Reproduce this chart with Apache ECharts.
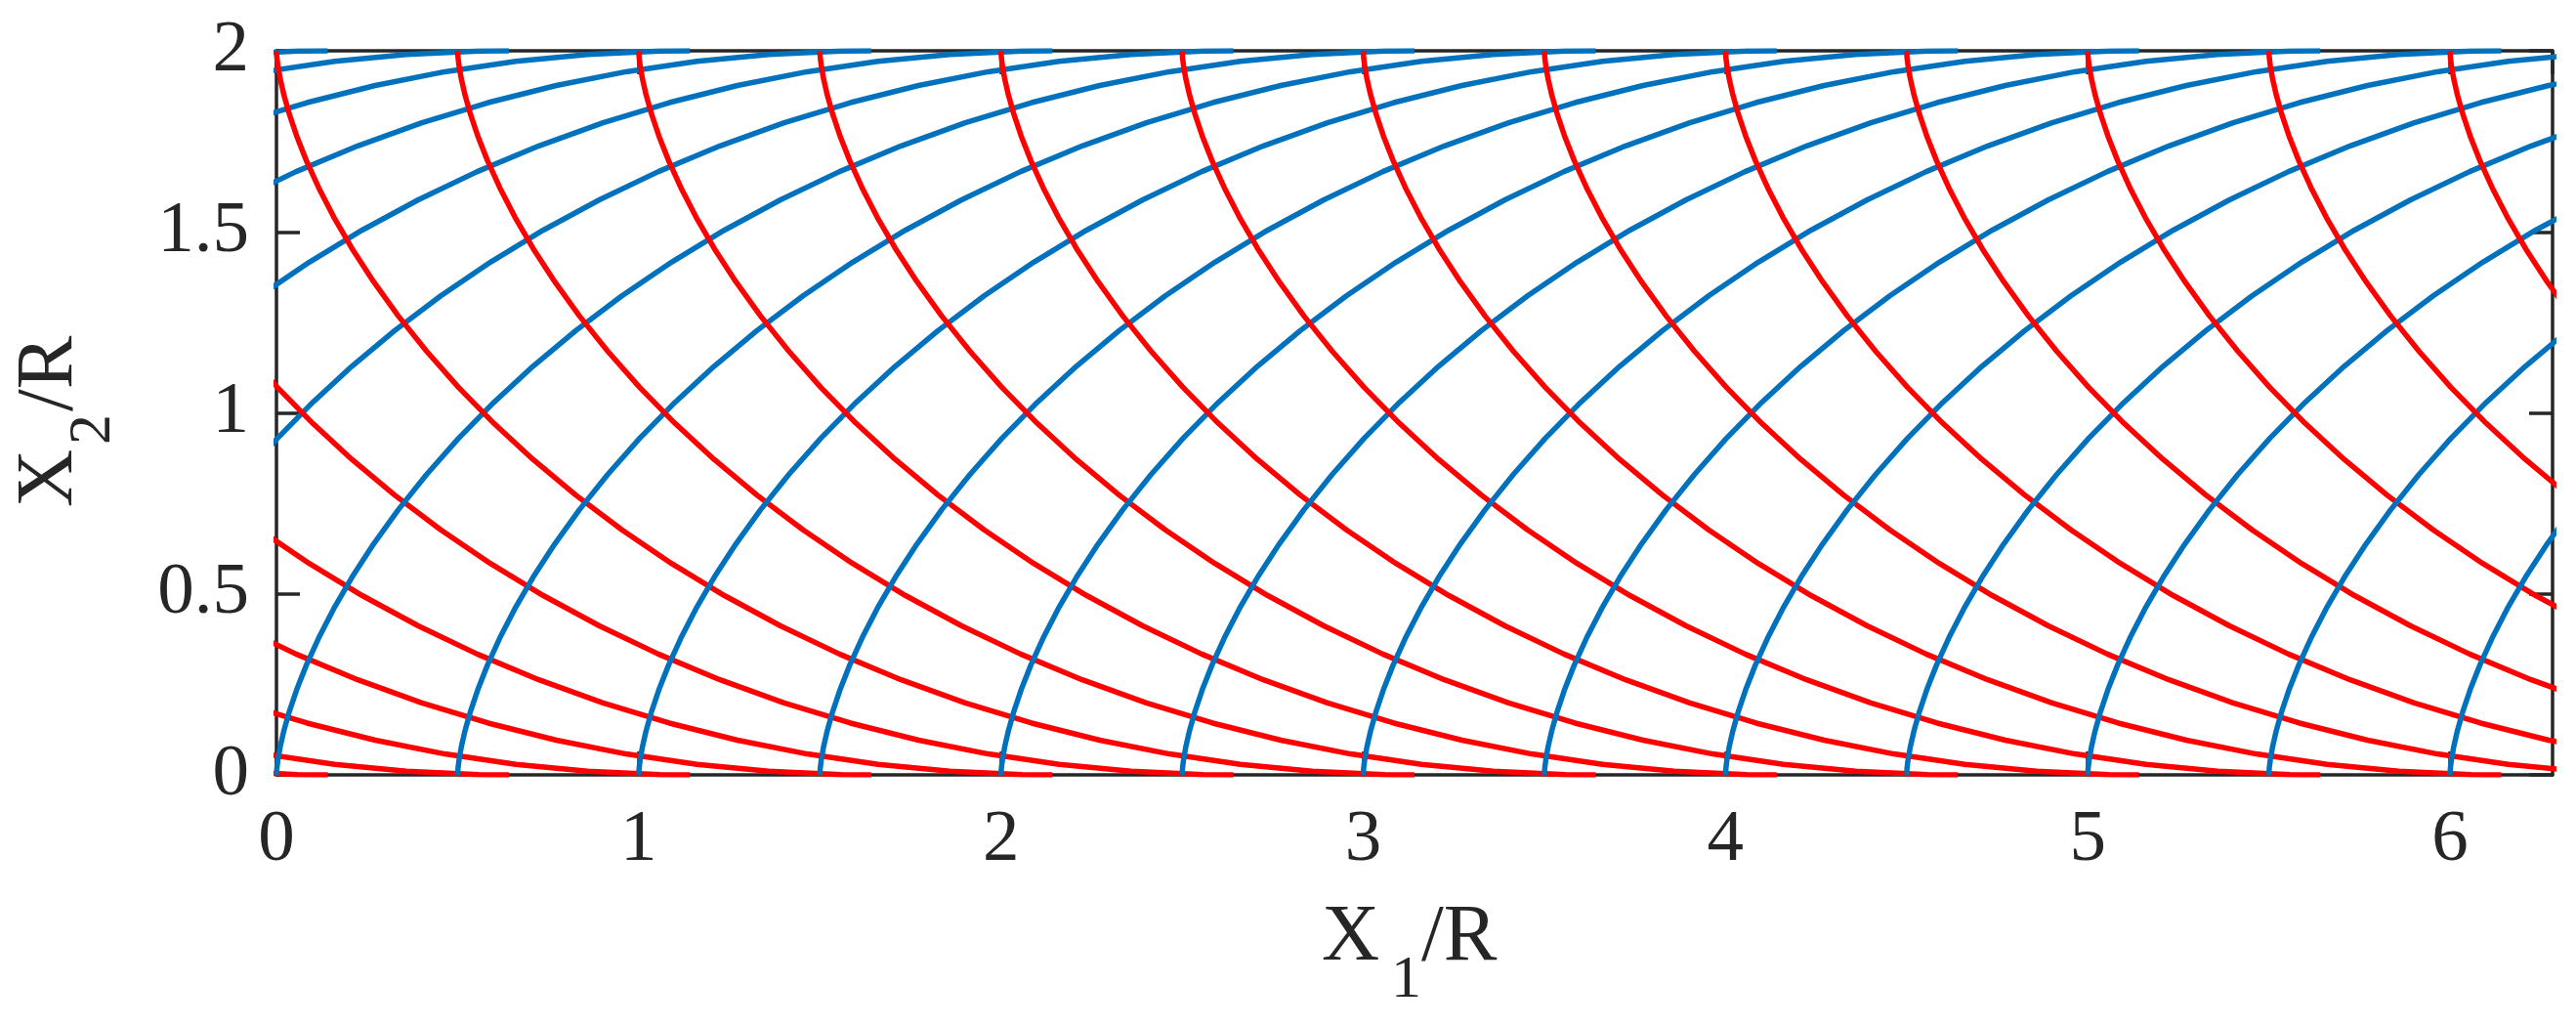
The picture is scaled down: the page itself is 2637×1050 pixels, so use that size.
<!DOCTYPE html>
<html>
<head>
<meta charset="utf-8">
<script src="https://cdn.jsdelivr.net/npm/echarts@6/dist/echarts.min.js"></script>
<style>
  html, body { margin: 0; padding: 0; background: #fff; }
  #main { width: 2637px; height: 1050px; }
</style>
</head>
<body>
<div id="main"></div>
<script>
// one arch of the curve family (offset from its start, height)
const archDx = [0, 0.0002, 0.0013, 0.0045, 0.0106, 0.0206, 0.0354, 0.0558, 0.0826, 0.1167, 0.1585,
  0.2088, 0.2680, 0.3364, 0.4146, 0.5025, 0.6004, 0.7083, 0.8262, 0.9537, 1.0907, 1.2368, 1.3915,
  1.5543, 1.7245, 1.9015, 2.0845, 2.2726, 2.4650, 2.6608, 2.8589, 3.0584, 3.1416]
// blue curves rise from 0 to 2
const blueArchY = [0, 0.0050, 0.0199, 0.0447, 0.0789, 0.1224, 0.1747, 0.2352, 0.3033, 0.3784, 0.4597,
  0.5464, 0.6376, 0.7325, 0.8300, 0.9293, 1.0292, 1.1288, 1.2272, 1.3233, 1.4161, 1.5048, 1.5885,
  1.6663, 1.7374, 1.8011, 1.8569, 1.9041, 1.9422, 1.9710, 1.9900, 1.9991, 2]
// red curves fall from 2 to 0
const redArchY = [2, 1.9950, 1.9801, 1.9553, 1.9211, 1.8776, 1.8253, 1.7648, 1.6967, 1.6216, 1.5403,
  1.4536, 1.3624, 1.2675, 1.1700, 1.0707, 0.9708, 0.8712, 0.7728, 0.6767, 0.5839, 0.4952, 0.4115,
  0.3337, 0.2626, 0.1989, 0.1431, 0.0959, 0.0578, 0.0290, 0.0100, 0.0009, 0]
// where each curve starts on X1/R
const blueStarts = [-3, -2.5, -2, -1.5, -1, -0.5, 0, 0.5, 1, 1.5, 2, 2.5, 3, 3.5, 4, 4.5, 5, 5.5, 6]
const redStarts = [-3, -2.5, -2, -1.5, -1, -0.5, 0, 0.5, 1, 1.5, 2, 2.5, 3, 3.5, 4, 4.5, 5, 5.5, 6]
const xTicks = [0, 1, 2, 3, 4, 5, 6]
const yTicks = [0, 0.5, 1, 1.5, 2]

const xMax = 6.2832
const fontFam = '"Liberation Serif", "Times New Roman", serif'
const axisColor = '#262626'
const blue = '#0072BD'
const red = '#FF0000'

function curve(start, ys) {
  return archDx.map((d, i) => [start + d, ys[i]])
}

let series = []
for (let k = 0; k < blueStarts.length; k++) {
  series.push({
    type: 'line',
    data: curve(blueStarts[k], blueArchY),
    showSymbol: false,
    lineStyle: { color: blue, width: 5.5 },
    clip: true,
    silent: true,
  })
  series.push({
    type: 'line',
    data: curve(redStarts[k], redArchY),
    showSymbol: false,
    lineStyle: { color: red, width: 5.5 },
    clip: true,
    silent: true,
  })
}

const tickLine = { show: true, inside: true, length: 24, lineStyle: { color: axisColor, width: 3.5 } }
const axLine = { show: true, onZero: false, lineStyle: { color: axisColor, width: 3.5 } }

let myChart = echarts.init(document.getElementById('main'))
let option = {
  animation: false,
  backgroundColor: '#fff',
  grid: { left: 283, right: 24, top: 52, bottom: 257, containLabel: false },
  xAxis: [
    {
      type: 'value', min: 0, max: xMax, interval: 1, position: 'bottom',
      axisLine: axLine, axisTick: tickLine, splitLine: { show: false },
      axisLabel: {
        show: true, margin: 30, fontSize: 75, color: axisColor, fontFamily: fontFam,
        showMaxLabel: false,
        formatter: (v) => (xTicks.indexOf(v) >= 0 ? String(v) : ''),
      },
    },
    {
      type: 'value', min: 0, max: xMax, interval: 1, position: 'top',
      axisLine: axLine, axisTick: tickLine, splitLine: { show: false },
      axisLabel: { show: false },
    },
  ],
  yAxis: [
    {
      type: 'value', min: 0, max: 2, interval: 0.5, position: 'left',
      axisLine: axLine, axisTick: tickLine, splitLine: { show: false },
      axisLabel: {
        show: true, margin: 28, fontSize: 75, color: axisColor, fontFamily: fontFam,
        formatter: (v) => (yTicks.indexOf(v) >= 0 ? String(v) : ''),
      },
    },
    {
      type: 'value', min: 0, max: 2, interval: 0.5, position: 'right',
      axisLine: axLine, axisTick: tickLine, splitLine: { show: false },
      axisLabel: { show: false },
    },
  ],
  // axis titles with subscripts
  graphic: [
    { type: 'text', x: 1353, y: 960, style: { text: 'X', font: '82px ' + fontFam, fill: axisColor, verticalAlign: 'middle', align: 'left' } },
    { type: 'text', x: 1424, y: 1004, style: { text: '1', font: '62px ' + fontFam, fill: axisColor, verticalAlign: 'middle', align: 'left' } },
    { type: 'text', x: 1455, y: 960, style: { text: '/R', font: '82px ' + fontFam, fill: axisColor, verticalAlign: 'middle', align: 'left' } },
    { type: 'text', x: 51, y: 519, rotation: Math.PI / 2, style: { text: 'X', font: '82px ' + fontFam, fill: axisColor, verticalAlign: 'middle', align: 'left' } },
    { type: 'text', x: 96, y: 455, rotation: Math.PI / 2, style: { text: '2', font: '62px ' + fontFam, fill: axisColor, verticalAlign: 'middle', align: 'left' } },
    { type: 'text', x: 51, y: 421, rotation: Math.PI / 2, style: { text: '/R', font: '82px ' + fontFam, fill: axisColor, verticalAlign: 'middle', align: 'left' } },
  ],
  series: series,
}
myChart.setOption(option)
</script>
</body>
</html>
